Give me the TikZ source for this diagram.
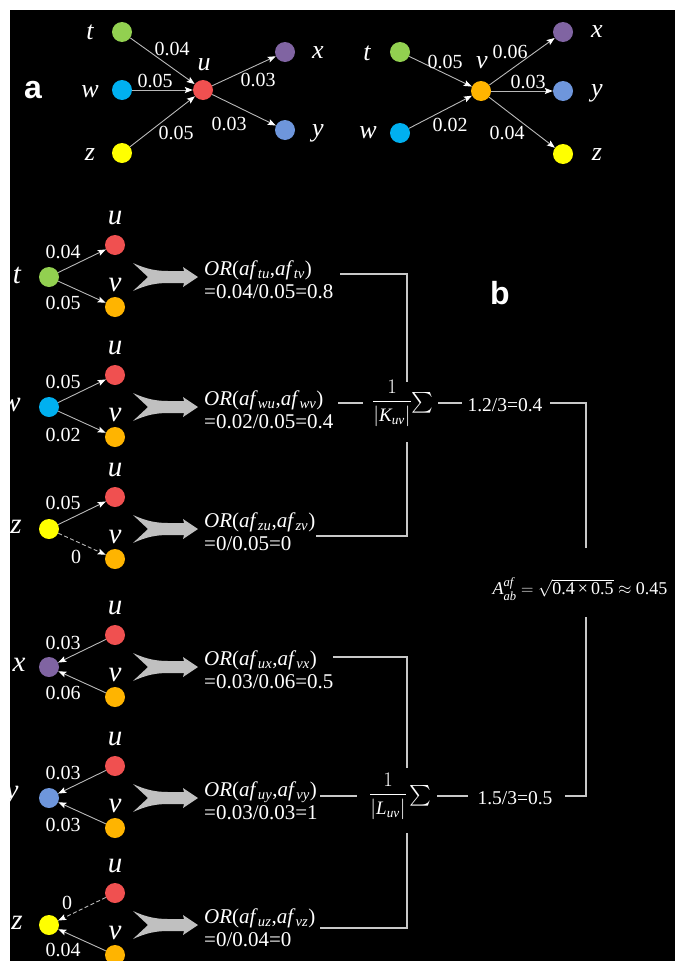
\documentclass[tikz,border=0pt]{standalone}
\usepackage{amsmath}
\usepackage{fontspec}
\setmainfont{Liberation Serif}
\setsansfont{Liberation Sans}
\usetikzlibrary{arrows.meta}
\definecolor{cT}{RGB}{146,208,80}
\definecolor{cW}{RGB}{0,176,240}
\definecolor{cZ}{RGB}{255,255,0}
\definecolor{cU}{RGB}{240,80,80}
\definecolor{cV}{RGB}{255,180,0}
\definecolor{cX}{RGB}{128,100,162}
\definecolor{cY}{RGB}{110,150,220}
\definecolor{lgray}{RGB}{200,200,200}
\definecolor{egray}{RGB}{185,185,185}
\definecolor{agray}{RGB}{192,192,192}
\newcommand\afs[1]{\textit{af}\textsubscript{\textit{#1}}}
\newcommand\bigarr[1]{\fill[agray,shift={(0,#1)}] (133,-14) .. controls (146,-8) and (156,-6) .. (168,-6) -- (184,-6) -- (183,-10) -- (198,0) -- (183,10) -- (184,6) -- (168,6) .. controls (156,6) and (146,8) .. (133,14) -- (148,0) -- cycle;}
% #1 prefix, #2 cy, #3 colour, #4 letter, #5 label x, #6 line1, #7 line2
\newcommand\rowbase[7]{%
  \node[ball=#3] (#1s) at (49,#2) {};
  \node[blab] (#1sl) at (#5,#2-2) {#4};
  \node[ball=cU] (#1u) at (115,#2-32) {};
  \node[ball=cV] (#1v) at (115,#2+30) {};
  \node[blab] (#1ul) at (115,#2-59) {u};
  \node[blab] (#1vl) at (115,#2+8) {v};
  \bigarr{#2}
  \node[ortext] (#1t) at (204,#2+3) {#6\\#7};
}
\begin{document}
\begin{tikzpicture}[x=1bp,y=-1bp,
  ball/.style={circle,minimum size=20bp,inner sep=0pt,fill=#1},
  alab/.style={text=white,inner sep=0pt,font=\fontsize{26bp}{28bp}\selectfont\itshape},
  blab/.style={text=white,inner sep=0pt,font=\fontsize{29bp}{31bp}\selectfont\itshape},
  num/.style={text=white,inner sep=0pt,font=\fontsize{20bp}{22bp}\selectfont},
  ortext/.style={text=white,inner sep=0pt,anchor=west,align=left,font=\fontsize{21bp}{23bp}\selectfont},
  conn/.style={draw=egray,line width=0.9bp,-{Stealth[length=8bp,width=6bp,inset=1.5bp,color=white]}},
  dconn/.style={conn,dash pattern=on 4bp off 2.5bp},
  brk/.style={draw=lgray,line width=1.3bp},
  bold/.style={text=white,inner sep=0pt,font=\sffamily\bfseries\fontsize{32bp}{34bp}\selectfont}
]
\useasboundingbox (0,0) rectangle (675,961);
\fill[black] (0,0) rectangle (675,961);

% ---------- part a, left ----------
\node[bold] (pa) at (33,90) {a};
\node[ball=cT] (at) at (122,32) {};
\node[ball=cW] (aw) at (122,90) {};
\node[ball=cZ] (az) at (122,153) {};
\node[ball=cU] (au) at (203,90) {};
\node[ball=cX] (ax) at (285,52) {};
\node[ball=cY] (ay) at (285,130) {};
\node[alab] (atl) at (90,32) {t};
\node[alab] (awl) at (90,92) {w};
\node[alab] (azl) at (90,155) {z};
\node[alab] (aul) at (204,65) {u};
\node[alab] (axl) at (318,53) {x};
\node[alab] (ayl) at (318,133) {y};
\draw[conn] (at) -- (au);
\draw[conn] (aw) -- (au);
\draw[conn] (az) -- (au);
\draw[conn] (au) -- (ax);
\draw[conn] (au) -- (ay);
\node[num] (n1) at (172,49) {0.04};
\node[num] (n2) at (155,81) {0.05};
\node[num] (n3) at (176,133) {0.05};
\node[num] (n4) at (258,80) {0.03};
\node[num] (n5) at (229,124) {0.03};

% ---------- part a, right ----------
\node[ball=cT] (bt) at (400,52) {};
\node[ball=cW] (bw) at (400,133) {};
\node[ball=cV] (bv) at (481,91) {};
\node[ball=cX] (bx) at (563,32) {};
\node[ball=cY] (by) at (563,91) {};
\node[ball=cZ] (bz) at (563,154) {};
\node[alab] (btl) at (367,53) {t};
\node[alab] (bwl) at (368,133) {w};
\node[alab] (bvl) at (482,63) {v};
\node[alab] (bxl) at (597,32) {x};
\node[alab] (byl) at (597,93) {y};
\node[alab] (bzl) at (597,155) {z};
\draw[conn] (bt) -- (bv);
\draw[conn] (bw) -- (bv);
\draw[conn] (bv) -- (bx);
\draw[conn] (bv) -- (by);
\draw[conn] (bv) -- (bz);
\node[num] (m1) at (445,62) {0.05};
\node[num] (m2) at (450,125) {0.02};
\node[num] (m3) at (510,52) {0.06};
\node[num] (m4) at (528,82) {0.03};
\node[num] (m5) at (507,133) {0.04};

% ---------- part b ----------
\node[bold] (pb) at (500,293) {b};

\rowbase{r1}{277}{cT}{t}{17}{\textit{OR}(\afs{tu},\afs{tv})}{=0.04/0.05=0.8}
\draw[conn] (r1s) -- (r1u);
\draw[conn] (r1s) -- (r1v);
\node[num] (r1a) at (63,252) {0.04};
\node[num] (r1b) at (63,303) {0.05};

\rowbase{r2}{407}{cW}{w}{11}{\textit{OR}(\afs{wu},\afs{wv})}{=0.02/0.05=0.4}
\draw[conn] (r2s) -- (r2u);
\draw[conn] (r2s) -- (r2v);
\node[num] (r2a) at (63,382) {0.05};
\node[num] (r2b) at (63,435) {0.02};

\rowbase{r3}{529}{cZ}{z}{16}{\textit{OR}(\afs{zu},\afs{zv})}{=0/0.05=0}
\draw[conn] (r3s) -- (r3u);
\draw[dconn] (r3s) -- (r3v);
\node[num] (r3a) at (63,503) {0.05};
\node[num] (r3b) at (76,557) {0};

\rowbase{r4}{667}{cX}{x}{19}{\textit{OR}(\afs{ux},\afs{vx})}{=0.03/0.06=0.5}
\draw[conn] (r4u) -- (r4s);
\draw[conn] (r4v) -- (r4s);
\node[num] (r4a) at (63,643) {0.03};
\node[num] (r4b) at (63,693) {0.06};

\rowbase{r5}{798}{cY}{y}{12}{\textit{OR}(\afs{uy},\afs{vy})}{=0.03/0.03=1}
\draw[conn] (r5u) -- (r5s);
\draw[conn] (r5v) -- (r5s);
\node[num] (r5a) at (63,773) {0.03};
\node[num] (r5b) at (63,825) {0.03};

\rowbase{r6}{925}{cZ}{z}{17}{\textit{OR}(\afs{uz},\afs{vz})}{=0/0.04=0}
\draw[dconn] (r6u) -- (r6s);
\draw[conn] (r6v) -- (r6s);
\node[num] (r6a) at (67,903) {0};
\node[num] (r6b) at (63,950) {0.04};

% ---------- bracket K ----------
\node[text=white,inner sep=0pt,font=\fontsize{19bp}{21bp}\selectfont] (fK) at (392,403) {$\dfrac{1}{|\textit{K}_{\textit{uv}}|}$};
\node[text=white,inner sep=0pt,font=\fontsize{22bp}{24bp}\selectfont] (sK) at (422,403) {$\sum$};
\node[text=white,inner sep=0pt,font=\fontsize{19.5bp}{21bp}\selectfont] (vK) at (505,405) {1.2/3=0.4};
\coordinate (K1) at (407,274);
\coordinate (K2) at (407,536);
\coordinate (KR) at (586,403);
\draw[brk] (340,274) -- (K1) -- (407,382);
\draw[brk] (338,403) -- (363,403);
\draw[brk] (316,536) -- (K2) -- (407,442);
\draw[brk] (438,403) -- (462,403);
\draw[brk] (550,403) -- (KR) -- (586,548);

% ---------- bracket L ----------
\node[text=white,inner sep=0pt,font=\fontsize{19bp}{21bp}\selectfont] (fL) at (388,796) {$\dfrac{1}{|\textit{L}_{\textit{uv}}|}$};
\node[text=white,inner sep=0pt,font=\fontsize{22bp}{24bp}\selectfont] (sL) at (420,796) {$\sum$};
\node[text=white,inner sep=0pt,font=\fontsize{19.5bp}{21bp}\selectfont] (vL) at (515,798) {1.5/3=0.5};
\coordinate (L1) at (407,657);
\coordinate (L2) at (407,928);
\coordinate (LR) at (586,796);
\draw[brk] (333,657) -- (L1) -- (407,768);
\draw[brk] (320,796) -- (357,796);
\draw[brk] (320,928) -- (L2) -- (407,833);
\draw[brk] (437,796) -- (468,796);
\draw[brk] (565,796) -- (LR) -- (586,617);

% ---------- result ----------
\node[text=white,inner sep=0pt,font=\fontsize{18bp}{20bp}\selectfont] (res) at (580,589)
  {\textit{A}$^{\textit{af}}_{\textit{ab}}$ $=$ $\sqrt{\text{0.4\,×\,0.5}}$ $\approx$ 0.45};

% white margins
\fill[white] (0,0) rectangle (10,961);
\fill[white] (0,0) rectangle (675,10);
\end{tikzpicture}
\end{document}
